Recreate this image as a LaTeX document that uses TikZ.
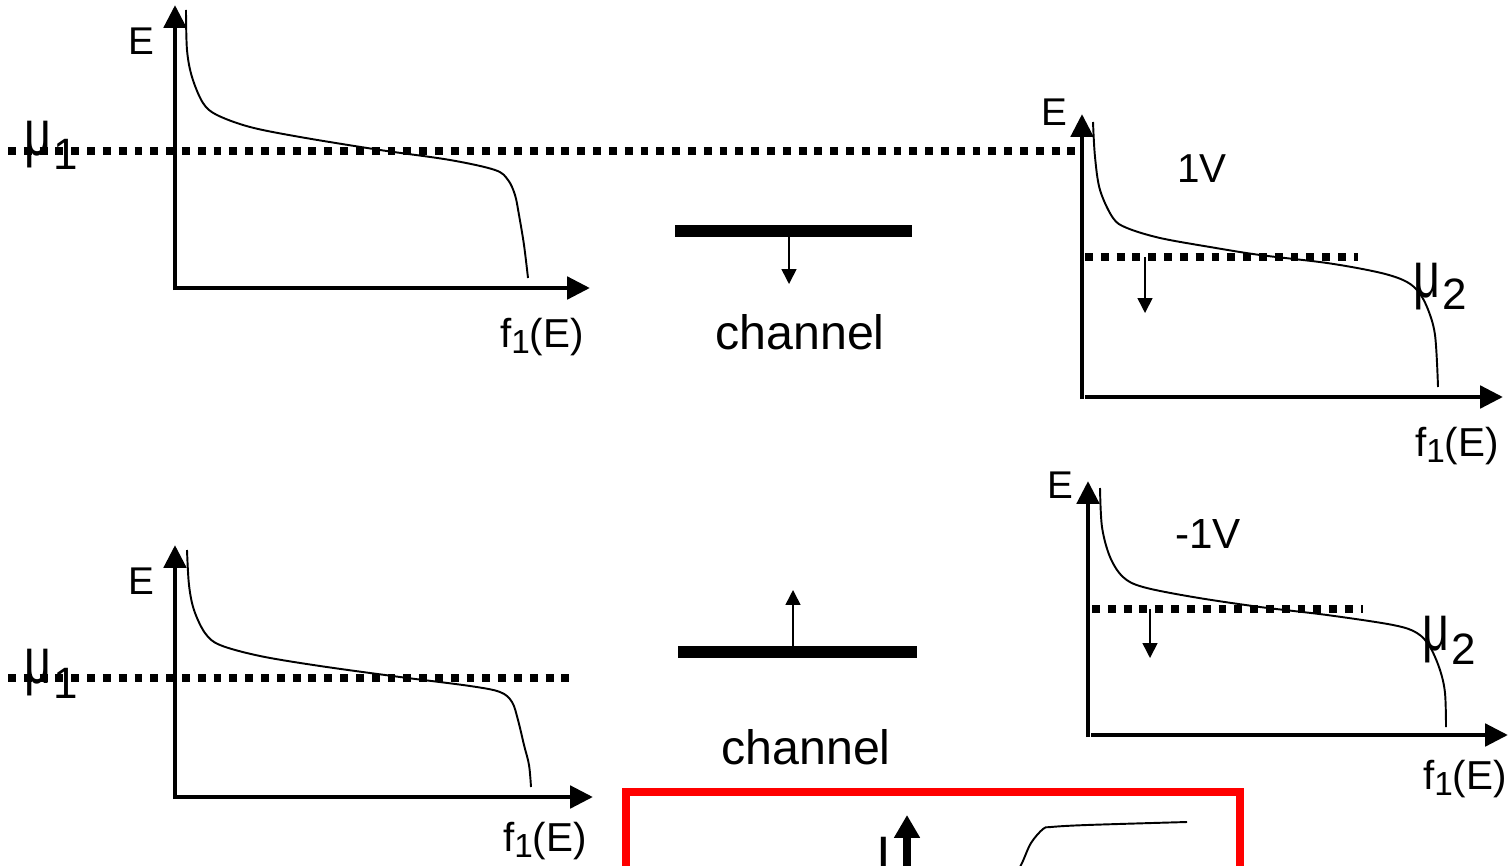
\documentclass[tikz,border=0pt]{standalone}
\usepackage{fontspec}
\setmainfont{Liberation Sans}
\usetikzlibrary{arrows.meta}
\newcommand\setfs[1]{\fontsize{#1}{#1}\selectfont}
% chemical potential label: narrow mu with a lowered index
\newcommand\mulabel[2]{\scalebox{0.72}[1]{\setfs{37}μ}\hspace{1pt}\raisebox{#2}{\setfs{25}#1}}
\newcommand\fone{f\raisebox{-3.5pt}{\setfs{19}1}(E)}

\begin{document}
\begin{tikzpicture}[x=0.02cm,y=-0.02cm,
  axis/.style={line width=2.8pt,line cap=butt,-{Triangle[length=13pt,width=12.5pt]}},
  level/.style={line width=4.3pt,dash pattern=on 4.5pt off 4.5pt},
  fermi/.style={line width=1.1pt,smooth,tension=0.55},
  shiftarrow/.style={line width=0.9pt,-{Triangle[length=8.5pt,width=8.5pt]}},
  bar/.style={line width=6.3pt},
  lbl/.style={inner sep=0pt,anchor=base},
  elbl/.style={lbl,font=\setfs{22}},
  flbl/.style={lbl,font=\setfs{23}},
  mulbl/.style={inner sep=0pt,anchor=base west},
  chlbl/.style={lbl,font=\setfs{27.5}}]

\useasboundingbox (0,0) rectangle (1510,865);
\clip (0,0) rectangle (1510,865);

% ---------- upper row: left contact ----------
\draw[level] (8,151) coordinate (lvA) -- (1080,151) coordinate (lvB);
\coordinate (tlO) at (175,290);
\coordinate (tlY) at (175,5);
\coordinate (tlX) at (590,288);
\draw[axis] (tlO) -- (tlY);
\draw[axis] (173,288) coordinate (tlX0) -- (tlX);
\draw[fermi] plot coordinates {(186,10) (187,50) (192,77) (203,103) (217,115) (250,127)
  (300,137) (380,150) (450,160) (495,170) (508,180) (515,195) (519,215) (524,245) (528,278)};
\node[elbl] (tlE) at (141,55) {E};
\node[flbl] (tlF) at (542,347) {\fone};
\node[mulbl] (mu1a) at (24,155) {\mulabel{1}{-8pt}};

% ---------- upper row: channel ----------
\draw[bar] (675,231) coordinate (chA1) -- (912,231) coordinate (chA2);
\coordinate (chAs) at (789,236);
\coordinate (chAe) at (789,284);
\draw[shiftarrow] (chAs) -- (chAe);
\node[chlbl] (chA) at (800,349) {channel};

% ---------- upper row: right contact ----------
\draw[level] (1085,257) coordinate (lvC) -- (1358,257) coordinate (lvD);
\coordinate (trO) at (1082,399);
\coordinate (trY) at (1082,114);
\coordinate (trX) at (1503,397);
\draw[axis] (trO) -- (trY);
\draw[axis] (1085,397) coordinate (trX0) -- (trX);
\draw[fermi] plot coordinates {(1093,122) (1095,157) (1100,190) (1113,218) (1127,228)
  (1160,238) (1210,247) (1260,255) (1327,263) (1377,272) (1403,280) (1417,290)
  (1427,307) (1435,335) (1438,387)};
\coordinate (trAs) at (1145,257);
\coordinate (trAe) at (1145,313);
\draw[shiftarrow] (trAs) -- (trAe);
\node[elbl] (trE) at (1054,125) {E};
\node[lbl,font=\setfs{23}] (v1) at (1202,182) {1V};
\node[mulbl] (mu2a) at (1413,297) {\mulabel{2}{-7pt}};
\node[flbl] (trF) at (1457,456) {\fone};

% ---------- lower row: left contact ----------
\draw[level] (8,678) coordinate (lvE) -- (572,678) coordinate (lvF);
\coordinate (blO) at (175,799);
\coordinate (blY) at (175,545);
\coordinate (blX) at (593,797);
\draw[axis] (blO) -- (blY);
\draw[axis] (173,797) coordinate (blX0) -- (blX);
\draw[fermi] plot coordinates {(187,550) (189,585) (194,610) (205,633) (220,645)
  (260,656) (320,666) (400,677) (470,686) (500,692) (512,702) (518,720) (524,745)
  (529,765) (531,787)};
\node[elbl] (blE) at (141,594) {E};
\node[flbl] (blF) at (545,851) {\fone};
\node[mulbl] (mu1b) at (24,683) {\mulabel{1}{-9pt}};

% ---------- lower row: channel ----------
\draw[bar] (678,652) coordinate (chB1) -- (917,652) coordinate (chB2);
\coordinate (chBs) at (793,647);
\coordinate (chBe) at (793,590);
\draw[shiftarrow] (chBs) -- (chBe);
\node[chlbl] (chB) at (806,764) {channel};

% ---------- lower row: right contact ----------
\draw[level] (1092,609) coordinate (lvG) -- (1363,609) coordinate (lvH);
\coordinate (brO) at (1088,737);
\coordinate (brY) at (1088,481);
\coordinate (brX) at (1508,735);
\draw[axis] (brO) -- (brY);
\draw[axis] (1091,735) coordinate (brX0) -- (brX);
\draw[fermi] plot coordinates {(1100,488) (1102,527) (1110,557) (1123,577) (1143,587)
  (1193,597) (1260,607) (1327,615) (1393,625) (1417,633) (1430,647) (1440,670)
  (1445,693) (1446,727)};
\coordinate (brAs) at (1150,609);
\coordinate (brAe) at (1150,658);
\draw[shiftarrow] (brAs) -- (brAe);
\node[elbl] (brE) at (1060,498) {E};
\node[lbl,font=\setfs{24}] (v2) at (1208,548) {-1V};
\node[mulbl] (mu2b) at (1422,650) {\mulabel{2}{-8pt}};
\node[flbl] (brF) at (1465,789) {\fone};

% ---------- current plot inset ----------
\draw[red,line width=4.5pt] (626,792) coordinate (boxA) rectangle (1240,900) coordinate (boxB);
\coordinate (iO) at (907,890);
\coordinate (iY) at (907,815);
\draw[line width=4.8pt,line cap=butt,-{Triangle[length=13pt,width=14pt]}] (iO) -- (iY);
\node[lbl,font=\setfs{30}] (iL) at (884,873) {I};
\draw[fermi] plot coordinates {(1013,880) (1022,863) (1031,843) (1043,829) (1051,827)
  (1087,825) (1187,822)};

\end{tikzpicture}
\end{document}
